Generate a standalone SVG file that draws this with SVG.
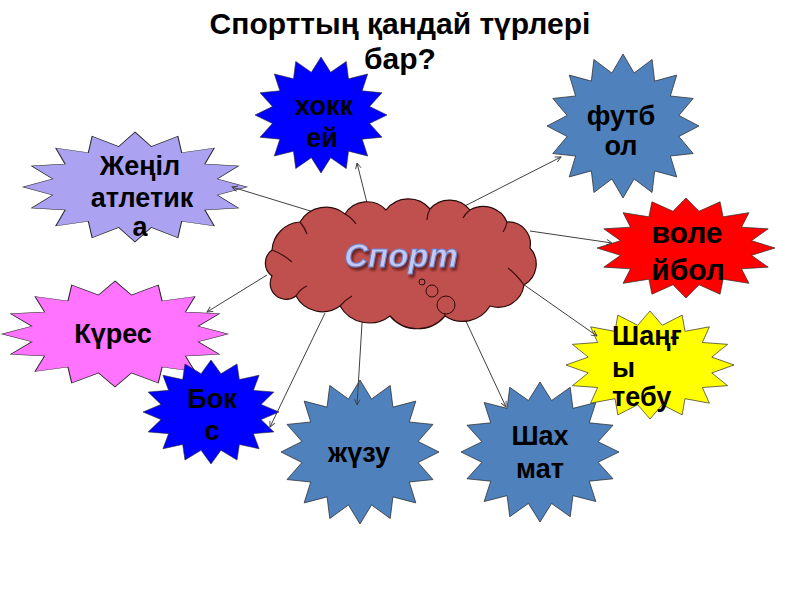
<svg xmlns="http://www.w3.org/2000/svg" xmlns:xlink="http://www.w3.org/1999/xlink" width="800" height="600" viewBox="0 0 800 600">
<style>
.title{font-family:"Liberation Sans",Arial,sans-serif;font-weight:bold;font-size:30px;fill:#000;text-anchor:middle}
.lbl{font-family:"Liberation Sans",Arial,sans-serif;font-weight:bold;font-size:27px;fill:#000;text-anchor:middle}
.star{stroke:#2a2a2a;stroke-width:1;vector-effect:non-scaling-stroke}
.conn{stroke:#404040;stroke-width:1;fill:none;marker-end:url(#arr)}
.cloudline{fill:none;stroke:#3a1010;stroke-width:1.2}
</style>
<defs>
<polygon id="star16" points="0,-100 14.63,-73.56 38.27,-92.39 41.67,-62.36 70.71,-70.71 62.36,-41.67 92.39,-38.27 73.56,-14.63 100,0 73.56,14.63 92.39,38.27 62.36,41.67 70.71,70.71 41.67,62.36 38.27,92.39 14.63,73.56 0,100 -14.63,73.56 -38.27,92.39 -41.67,62.36 -70.71,70.71 -62.36,41.67 -92.39,38.27 -73.56,14.63 -100,0 -73.56,-14.63 -92.39,-38.27 -62.36,-41.67 -70.71,-70.71 -41.67,-62.36 -38.27,-92.39 -14.63,-73.56"/>
<marker id="arr" viewBox="0 0 10 10" refX="9" refY="5" markerWidth="7" markerHeight="7" orient="auto" markerUnits="userSpaceOnUse">
<path d="M1,1 L9,5 L1,9" fill="none" stroke="#404040" stroke-width="1.3"/>
</marker>
<filter id="shadow" x="-20%" y="-30%" width="140%" height="160%">
<feDropShadow dx="2" dy="3" stdDeviation="1.2" flood-color="#4a1210" flood-opacity="0.7"/>
</filter>
</defs>
<rect width="800" height="600" fill="#fff"/>
<g id="title">
<text class="title" x="400" y="34">Спорттың қандай түрлері</text>
<text class="title" x="400" y="69">бар?</text>
</g>
<g id="node-hokkey">
<use xlink:href="#star16" class="star" fill="#0000FF" transform="translate(321,115) scale(0.66,0.58)"/>
<text class="lbl" x="324" y="115">хокк</text>
<text class="lbl" x="322" y="147">ей</text>
</g>
<g id="node-futbol">
<use xlink:href="#star16" class="star" fill="#4F81BD" transform="translate(623,126) scale(0.76,0.72)"/>
<text class="lbl" x="621" y="125">футб</text>
<text class="lbl" x="621" y="155">ол</text>
</g>
<g id="node-zhenil">
<use xlink:href="#star16" class="star" fill="#ABA3F2" transform="translate(135,187) scale(1.12,0.55)"/>
<text class="lbl" x="140" y="175">Жеңіл</text>
<text class="lbl" x="142" y="207">атлетик</text>
<text class="lbl" x="140" y="236">а</text>
</g>
<g id="node-voleybol">
<use xlink:href="#star16" class="star" fill="#FF0000" transform="translate(686,248) scale(0.89,0.5)"/>
<text class="lbl" x="687" y="243" style="font-size:30px">воле</text>
<text class="lbl" x="688" y="280" style="font-size:30px">йбол</text>
</g>
<g id="node-kures">
<use xlink:href="#star16" class="star" fill="#FF73FF" transform="translate(115,334) scale(1.13,0.53)"/>
<text class="lbl" x="113" y="343">Күрес</text>
</g>
<g id="node-shakhmat">
<use xlink:href="#star16" class="star" fill="#4F81BD" transform="translate(540,452) scale(0.79,0.7)"/>
<text class="lbl" x="540" y="445">Шах</text>
<text class="lbl" x="540" y="478">мат</text>
</g>
<g id="node-shangy">
<use xlink:href="#star16" class="star" fill="#FFFF00" transform="translate(650,365) scale(0.84,0.54)"/>
<text class="lbl" x="612" y="345" style="text-anchor:start">Шаңғ</text>
<text class="lbl" x="612" y="377" style="text-anchor:start">ы</text>
<text class="lbl" x="612" y="406" style="text-anchor:start">тебу</text>
</g>
<g id="node-boks">
<use xlink:href="#star16" class="star" fill="#0000FF" transform="translate(211,412) scale(0.68,0.52)"/>
<text class="lbl" x="212" y="408">Бок</text>
<text class="lbl" x="212" y="440">с</text>
</g>
<g id="node-zhuzu">
<use xlink:href="#star16" class="star" fill="#4F81BD" transform="translate(360,452) scale(0.79,0.72)"/>
<text class="lbl" x="359" y="462">жүзу</text>
</g>
<g id="connectors">
<line class="conn" x1="368" y1="207" x2="357" y2="163"/>
<line class="conn" x1="330" y1="217" x2="232" y2="187"/>
<line class="conn" x1="453" y1="212" x2="561" y2="157"/>
<line class="conn" x1="530" y1="231" x2="612" y2="243"/>
<line class="conn" x1="267" y1="275" x2="207" y2="312"/>
<line class="conn" x1="325" y1="313" x2="270" y2="427"/>
<line class="conn" x1="363" y1="307" x2="357" y2="405"/>
<line class="conn" x1="457" y1="302" x2="506" y2="407"/>
<line class="conn" x1="520" y1="282" x2="597" y2="336"/>
</g>
<g id="node-sport">
<path fill="#C0504D" stroke="#2a0a0a" stroke-width="1.2" d="M272,250 A30,30 0 0 1 300,222 A30,30 0 0 1 345,214 A26,26 0 0 1 386,210 A28,28 0 0 1 430,209 A26,26 0 0 1 470,210 A26,26 0 0 1 507,222 A22,22 0 0 1 530,248 A24,24 0 0 1 524,285 A26,26 0 0 1 490,306 A32,32 0 0 1 445,316 A36,36 0 0 1 390,316 A34,34 0 0 1 340,306 A30,30 0 0 1 296,296 A16,16 0 0 1 272,276 A16,16 0 0 1 272,250 Z"/>
<path class="cloudline" d="M272,250 Q283,254 292,262"/>
<path class="cloudline" d="M300,222 Q305,228 307,234"/>
<path class="cloudline" d="M345,214 Q352,218 356,224"/>
<path class="cloudline" d="M430,209 Q427,214 427,220"/>
<path class="cloudline" d="M470,210 Q465,214 463,218"/>
<path class="cloudline" d="M507,222 Q506,228 503,232"/>
<path class="cloudline" d="M524,285 Q517,275 508,268"/>
<path class="cloudline" d="M445,316 Q444,308 447,302"/>
<path class="cloudline" d="M340,306 Q345,300 352,296"/>
<path class="cloudline" d="M296,296 Q300,289 307,286"/>
<circle cx="422" cy="282" r="3" fill="#C0504D" stroke="#2a0a0a" stroke-width="1"/>
<circle cx="432" cy="291" r="6" fill="#C0504D" stroke="#2a0a0a" stroke-width="1"/>
<circle cx="446" cy="305" r="9" fill="#C0504D" stroke="#2a0a0a" stroke-width="1"/>
<text x="401" y="267" filter="url(#shadow)" style="font-family:'Liberation Sans',Arial,sans-serif;font-weight:bold;font-style:italic;font-size:33px;fill:#C3C9F2;stroke:#6F80C8;stroke-width:1;text-anchor:middle">Спорт</text>
</g>
</svg>
